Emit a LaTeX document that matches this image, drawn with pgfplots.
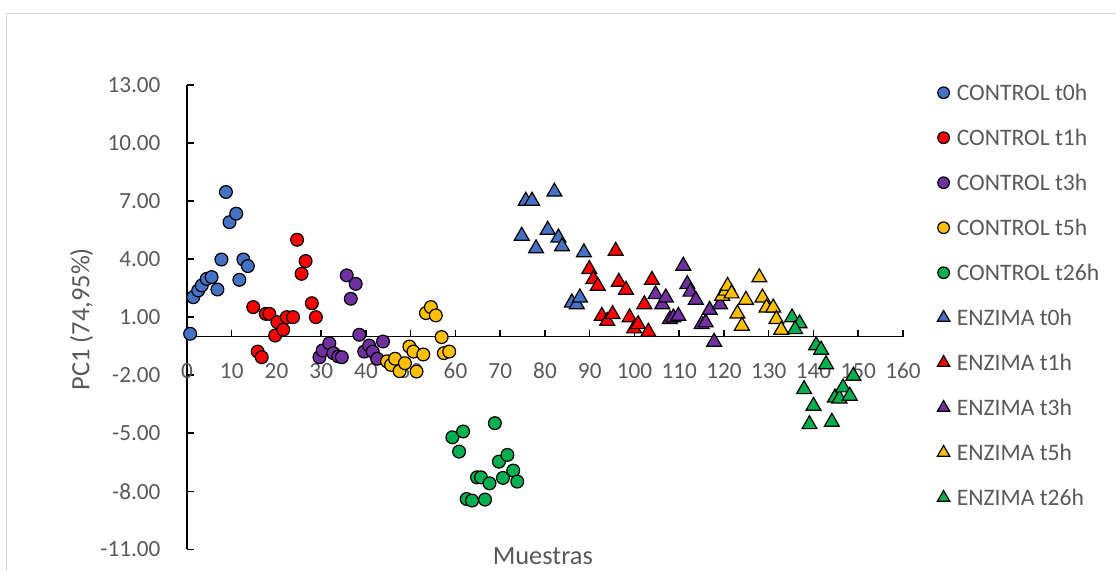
\documentclass[border=0pt]{standalone}
\usepackage{fontspec}
\setmainfont{Carlito}
\usepackage{pgfplots}
\pgfplotsset{compat=1.18}
\definecolor{cblue}{HTML}{4472C4}
\definecolor{cred}{HTML}{FF0000}
\definecolor{cpurple}{HTML}{7030A0}
\definecolor{cyellow}{HTML}{FFC000}
\definecolor{cgreen}{HTML}{00B050}
\definecolor{txtgray}{HTML}{595959}
\definecolor{framegray}{HTML}{D9D9D9}
\begin{document}
\begin{tikzpicture}
\useasboundingbox (0,0) rectangle (558pt,285pt);
\draw[framegray, line width=0.75pt] (3.25pt,-10pt) -- (3.25pt,278.25pt) -- (570pt,278.25pt);
\begin{axis}[
  at={(93.5pt,10.35pt)}, anchor=south west,
  scale only axis, width=358pt, height=232.15pt,
  xmin=0, xmax=160, ymin=-11, ymax=13,
  clip=false,
  axis x line=middle, axis y line=left,
  x axis line style={-, line width=0.75pt},
  y axis line style={-, line width=0.75pt},
  hide obscured x ticks=false,
  tick align=center,
  major tick length=3.5pt,
  tick style={black, line width=0.75pt},
  xtick style={yshift=1.75pt},
  ytick style={xshift=1.75pt},
  xtick={0,10,...,160},
  ytick={-11,-8,-5,-2,1,4,7,10,13},
  yticklabels={-11.00,-8.00,-5.00,-2.00,1.00,4.00,7.00,10.00,13.00},
  /pgf/number format/assume math mode=true,
  ticklabel style={font=\fontsize{11.6}{13.9}\selectfont, text=txtgray},
  xticklabel style={yshift=-8pt},
  yticklabel style={xshift=-8pt},
  xlabel={Muestras}, ylabel={PC1 (74,95\%)},
  every axis x label/.style={at={(axis description cs:0.497,-0.0330)}, anchor=base,
    font=\fontsize{13.2}{15.8}\selectfont, text=txtgray},
  every axis y label/.style={at={(axis description cs:-0.1472,0.4957)}, rotate=90, anchor=center,
    font=\fontsize{13.2}{15.8}\selectfont, text=txtgray},
  legend style={draw=none, fill=none, inner sep=0pt, outer sep=0pt,
    at={(axis description cs:1.048,1.0006)}, anchor=north west,
    font=\fontsize{11.8}{14.2}\selectfont, text=txtgray,
    row sep=14.5pt, column sep=3.5pt,
    nodes={inner sep=0pt, text height=8pt, text depth=0pt}},
  legend cell align=left,
  legend image code/.code={\draw[#1] plot coordinates {(0pt,0pt)};},
  every axis plot/.append style={only marks, draw=black, line width=0.6pt},
]
\pgfplotsinvokeforeach{10,20,30,40,50,60,70,80,90,100,110,120,130,140,150,160}{
  \draw[black, line width=0.75pt] (axis cs:#1,0) -- ++(0pt,3.5pt);
}
\addplot[mark=*, mark size=3.2pt, fill=cblue, legend image post style={mark size=2.9pt}] coordinates {
(0.7,0.14)(1.4,2.03)(2.5,2.38)(3.3,2.64)(4.4,2.98)(5.5,3.07)(6.8,2.43)(7.7,3.98)(8.7,7.47)(9.5,5.91)(11.0,6.35)(11.7,2.93)(12.6,3.98)(13.6,3.64)};
\addlegendentry{CONTROL t0h}
\addplot[mark=*, mark size=3.2pt, fill=cred, legend image post style={mark size=2.9pt}] coordinates {
(14.8,1.52)(15.8,-0.78)(16.7,-1.07)(17.6,1.17)(18.4,1.17)(19.7,0.05)(20.2,0.74)(21.5,0.35)(22.3,1.0)(23.7,1.0)(24.6,5.0)(25.6,3.24)(26.5,3.9)(27.9,1.72)(28.8,1.0)};
\addlegendentry{CONTROL t1h}
\addplot[mark=*, mark size=3.2pt, fill=cpurple, legend image post style={mark size=2.9pt}] coordinates {
(29.6,-1.07)(30.3,-0.72)(31.8,-0.35)(32.7,-0.86)(33.8,-1.03)(34.6,-1.07)(35.7,3.16)(36.6,1.95)(37.7,2.72)(38.5,0.09)(39.6,-0.78)(40.7,-0.47)(41.5,-0.78)(42.5,-1.15)(43.8,-0.26)};
\addlegendentry{CONTROL t3h}
\addplot[mark=*, mark size=3.2pt, fill=cyellow, legend image post style={mark size=2.9pt}] coordinates {
(44.7,-1.28)(45.6,-1.47)(46.5,-1.15)(47.5,-1.79)(48.7,-1.38)(49.7,-0.52)(50.6,-0.78)(51.3,-1.81)(52.8,-0.93)(53.4,1.21)(54.5,1.52)(55.6,1.09)(56.9,-0.03)(57.4,-0.86)(58.6,-0.78)};
\addlegendentry{CONTROL t5h}
\addplot[mark=*, mark size=3.2pt, fill=cgreen, legend image post style={mark size=2.9pt}] coordinates {
(59.3,-5.21)(60.8,-5.95)(61.7,-4.91)(62.5,-8.4)(63.7,-8.48)(64.8,-7.28)(65.7,-7.28)(66.6,-8.43)(67.6,-7.59)(68.8,-4.48)(69.7,-6.47)(70.6,-7.31)(71.6,-6.12)(72.9,-6.93)(73.8,-7.5)};
\addlegendentry{CONTROL t26h}
\addplot[mark=triangle*, mark size=4.3pt, fill=cblue, legend image post style={mark size=3.6pt}] coordinates {
(74.8,5.20)(75.7,7.01)(77.1,7.01)(78.0,4.55)(80.6,5.51)(82.1,7.48)(83.0,5.11)(83.8,4.65)(86.0,1.75)(87.1,1.66)(87.8,2.01)(88.7,4.34)};
\addlegendentry{ENZIMA t0h}
\addplot[mark=triangle*, mark size=4.3pt, fill=cred, legend image post style={mark size=3.6pt}] coordinates {
(89.9,3.48)(90.8,2.96)(91.8,2.61)(95.8,4.42)(92.7,1.06)(93.9,0.80)(95.1,1.15)(96.5,2.82)(98.1,2.41)(98.9,0.98)(99.9,0.41)(100.8,0.63)(102.2,1.66)(103.1,0.24)(103.9,2.92)};
\addlegendentry{ENZIMA t1h}
\addplot[mark=triangle*, mark size=4.3pt, fill=cpurple, legend image post style={mark size=3.6pt}] coordinates {
(104.7,2.18)(106.2,1.66)(107.0,2.01)(107.9,0.89)(108.7,0.98)(109.8,1.06)(110.9,3.65)(111.8,2.70)(112.5,2.31)(113.7,1.89)(115.0,0.63)(115.9,0.72)(116.8,1.37)(117.8,-0.28)(119.1,1.66)};
\addlegendentry{ENZIMA t3h}
\addplot[mark=triangle*, mark size=4.3pt, fill=cyellow, legend image post style={mark size=3.6pt}] coordinates {
(119.6,2.10)(120.4,2.36)(120.8,2.61)(121.7,2.22)(123.0,1.18)(124.0,0.55)(124.9,1.89)(127.9,3.05)(128.6,2.01)(129.5,1.49)(131.0,1.49)(131.7,0.89)(132.8,0.34)};
\addlegendentry{ENZIMA t5h}
\addplot[mark=triangle*, mark size=4.3pt, fill=cgreen, legend image post style={mark size=3.6pt}] coordinates {
(135.2,0.98)(136.9,0.67)(135.9,0.37)(140.6,-0.46)(141.7,-0.69)(142.8,-1.44)(148.9,-2.04)(137.9,-2.73)(140.0,-3.59)(139.1,-4.54)(144.1,-4.42)(144.8,-3.16)(145.8,-3.21)(146.6,-2.64)(148.1,-3.07)};
\addlegendentry{ENZIMA t26h}
\end{axis}
\end{tikzpicture}
\end{document}
